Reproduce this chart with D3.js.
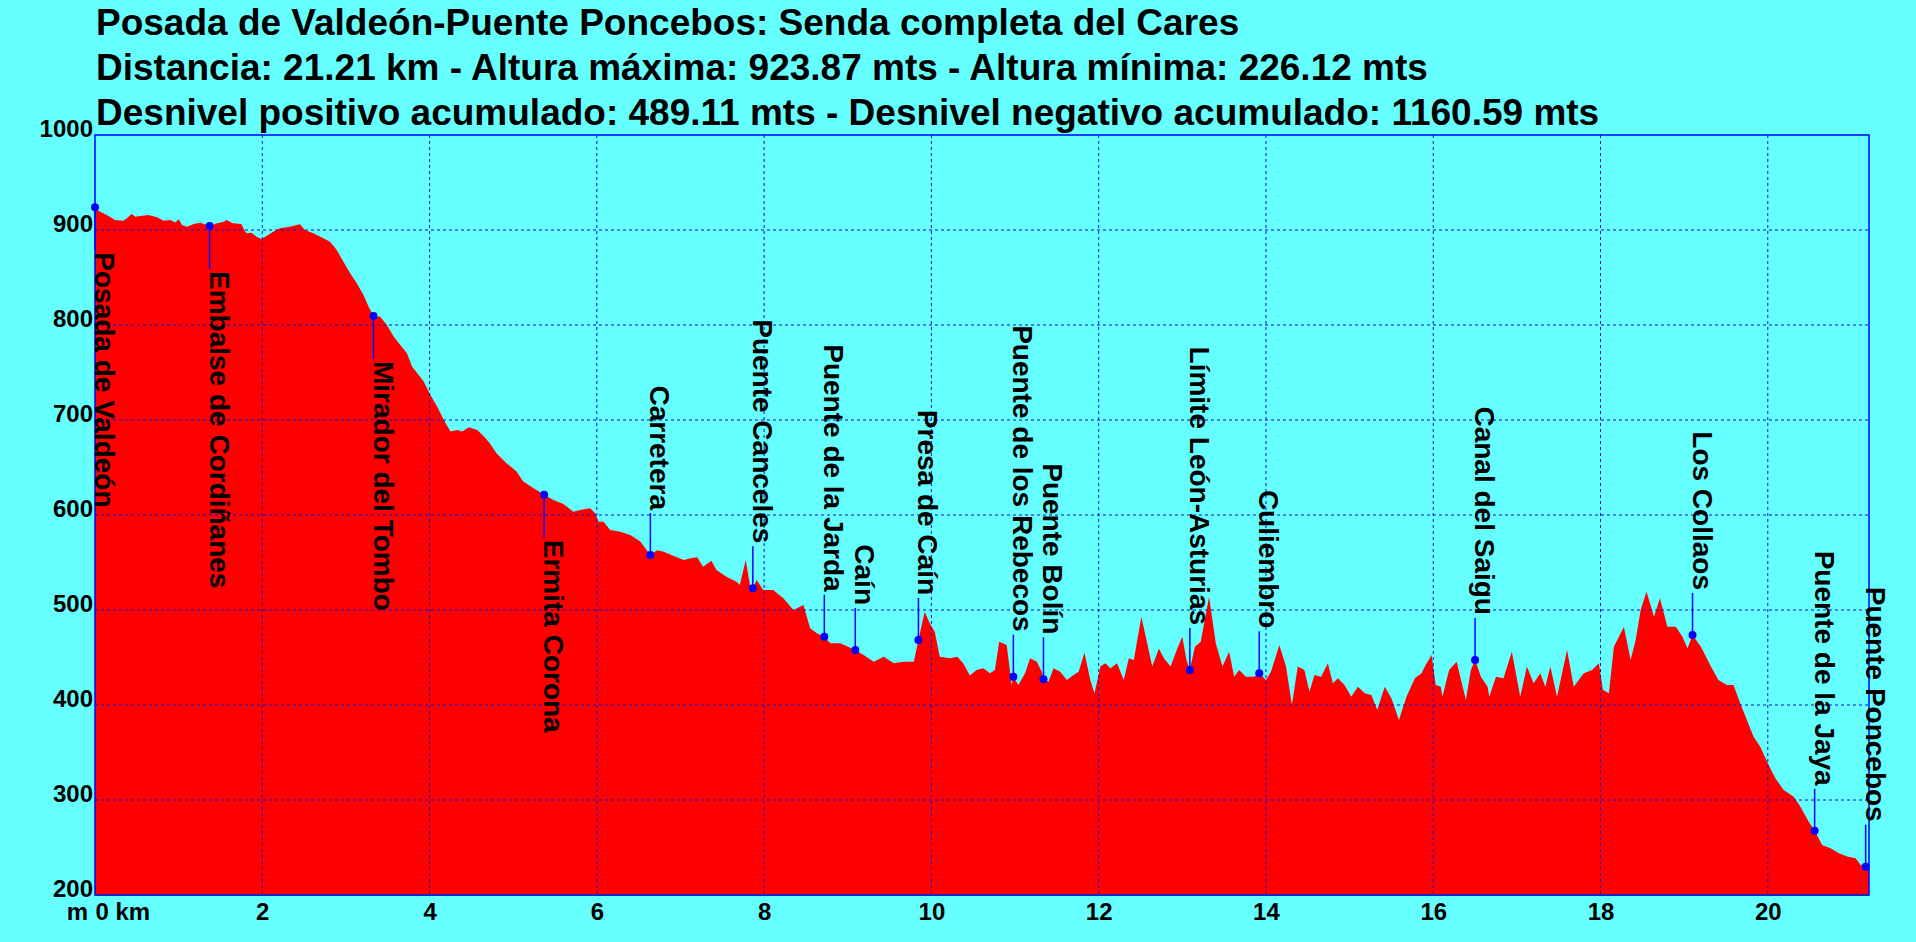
<!DOCTYPE html>
<html>
<head>
<meta charset="utf-8">
<script src="https://cdn.jsdelivr.net/npm/d3@7/dist/d3.min.js"></script>
<style>
  body { margin: 0; background: #66ffff; }
  svg { display: block; }
  text { font-family: "Liberation Sans", Arial, sans-serif; font-weight: bold; fill: #000; }
</style>
</head>
<body>
<svg width="1916" height="942"></svg>
<script>

// profile: distance (km) and altitude (m)
var profileKm = [0, 0.04, 0.14, 0.24, 0.34, 0.38, 0.44, 0.48, 0.54, 0.64, 0.74, 0.82, 0.90, 0.96, 1.00, 1.04, 1.10, 1.18, 1.26, 1.37,
  1.46, 1.54, 1.57, 1.65, 1.75, 1.78, 1.81, 1.87, 1.93, 1.99, 2.05, 2.13, 2.21, 2.33, 2.45, 2.51, 2.61, 2.73, 2.81, 2.89,
  2.97, 3.05, 3.13, 3.21, 3.27, 3.33, 3.41, 3.49, 3.57, 3.65, 3.73, 3.79, 3.87, 3.93, 4.01, 4.09, 4.17, 4.25, 4.33, 4.39,
  4.47, 4.57, 4.65, 4.72, 4.80, 4.92, 5.04, 5.12, 5.24, 5.37, 5.48, 5.60, 5.72, 5.80, 5.92, 5.98, 6.02, 6.08, 6.16, 6.28,
  6.40, 6.52, 6.64, 6.72, 6.80, 6.92, 7.04, 7.12, 7.20, 7.27, 7.37, 7.43, 7.55, 7.67, 7.71, 7.78, 7.83, 7.865, 7.91, 7.99,
  8.11, 8.23, 8.35, 8.47, 8.55, 8.63, 8.72, 8.79, 8.91, 9.09, 9.19, 9.31, 9.43, 9.55, 9.67, 9.79, 9.845, 9.92, 9.98, 10.04,
  10.10, 10.22, 10.31, 10.38, 10.46, 10.54, 10.62, 10.70, 10.76, 10.81, 10.90, 10.96, 10.98, 11.04, 11.12, 11.18, 11.26, 11.32, 11.34, 11.40,
  11.46, 11.54, 11.62, 11.70, 11.76, 11.83, 11.90, 11.95, 12.02, 12.08, 12.14, 12.22, 12.30, 12.36, 12.42, 12.51, 12.58, 12.64, 12.72, 12.78,
  12.86, 12.94, 13.00, 13.05, 13.09, 13.15, 13.22, 13.32, 13.40, 13.48, 13.56, 13.62, 13.68, 13.76, 13.86, 13.92, 14.00, 14.06, 14.16, 14.24,
  14.31, 14.38, 14.46, 14.52, 14.58, 14.66, 14.74, 14.80, 14.86, 14.94, 15.02, 15.10, 15.18, 15.26, 15.33, 15.42, 15.50, 15.59, 15.68, 15.78,
  15.86, 15.91, 15.98, 16.03, 16.09, 16.11, 16.19, 16.28, 16.39, 16.45, 16.50, 16.57, 16.65, 16.67, 16.75, 16.84, 16.94, 17.04, 17.12, 17.20,
  17.28, 17.34, 17.40, 17.48, 17.60, 17.68, 17.80, 17.90, 17.98, 18.03, 18.10, 18.16, 18.28, 18.36, 18.42, 18.48, 18.55, 18.64, 18.71, 18.80,
  18.90, 18.98, 19.04, 19.10, 19.20, 19.32, 19.41, 19.51, 19.59, 19.67, 19.75, 19.83, 19.91, 20.00, 20.09, 20.19, 20.31, 20.39, 20.49, 20.56,
  20.65, 20.75, 20.85, 20.95, 21.05, 21.11, 21.17, 21.21];

var profileEle = [923.9, 920.3, 915.8, 910.5, 909.8, 912.3, 916.8, 914.0, 914.7, 915.8, 913.3, 909.8, 910.5, 908.0, 911.2, 905.3, 903.5, 906.3, 907.7, 904.2,
  907.0, 908.8, 910.5, 907.0, 906.3, 900.7, 896.5, 897.2, 893.0, 890.5, 893.7, 898.2, 901.8, 903.5, 906.0, 900.0, 896.5, 891.2, 887.7, 879.0,
  866.7, 854.4, 843.9, 831.6, 819.4, 809.5, 808.8, 800.0, 787.8, 779.0, 770.3, 756.2, 747.5, 740.5, 726.4, 714.2, 700.1, 687.9, 689.6, 687.9,
  692.4, 689.6, 682.6, 675.6, 665.1, 654.6, 645.8, 635.3, 628.3, 621.3, 615.8, 611.6, 603.5, 605.3, 607.0, 601.8, 593.0, 593.0, 584.2, 582.5,
  579.0, 572.0, 557.9, 563.0, 561.4, 556.8, 552.6, 554.4, 555.4, 545.6, 551.9, 542.1, 535.1, 529.8, 526.3, 552.6, 526.3, 522.8, 531.6, 521.0,
  521.0, 512.3, 500.0, 505.3, 480.7, 475.4, 471.9, 464.9, 464.9, 457.9, 452.6, 445.6, 450.9, 443.9, 445.6, 445.6, 468.4, 498.2, 486.0, 477.2,
  450.9, 449.1, 450.9, 443.9, 431.0, 436.8, 438.6, 433.3, 436.8, 466.7, 463.2, 421.0, 429.8, 421.0, 433.3, 449.1, 445.6, 435.1, 427.0, 424.6,
  438.6, 435.1, 426.3, 431.6, 435.1, 455.1, 426.3, 412.3, 440.4, 443.9, 438.6, 443.9, 426.3, 449.1, 447.4, 493.0, 464.9, 440.4, 459.6, 449.1,
  440.4, 459.6, 471.9, 447.4, 436.8, 461.4, 466.7, 514.0, 464.9, 440.4, 456.1, 429.8, 436.8, 429.8, 429.8, 433.3, 426.3, 435.1, 463.2, 440.4,
  400.0, 440.4, 436.8, 414.0, 431.6, 429.8, 443.9, 422.8, 428.1, 421.0, 408.8, 419.3, 412.3, 410.5, 394.7, 419.3, 407.0, 384.2, 408.8, 428.1,
  433.3, 442.1, 452.6, 421.0, 419.3, 408.8, 436.8, 445.6, 405.3, 436.8, 447.4, 429.8, 419.3, 408.8, 429.8, 428.1, 456.1, 408.8, 440.4, 422.8,
  433.3, 419.3, 440.4, 408.8, 457.9, 419.3, 433.3, 436.8, 443.9, 415.8, 412.3, 461.4, 482.5, 447.4, 468.4, 500.0, 519.3, 493.0, 512.3, 482.5,
  482.5, 471.9, 459.6, 473.7, 461.4, 440.4, 426.3, 421.0, 421.0, 401.8, 384.2, 366.7, 356.1, 338.6, 322.8, 310.5, 303.5, 293.0, 277.2, 267.7,
  252.6, 249.1, 243.9, 240.4, 238.6, 231.6, 229.8, 226.1];

// waypoints
var wpNames = ["Posada de Valdeón", "Embalse de Cordiñanes", "Mirador del Tombo", "Ermita Corona", "Carretera",
  "Puente Canceles", "Puente de la Jarda", "Caín", "Presa de Caín", "Puente de los Rebecos", "Puente Bolín",
  "Límite León-Asturias", "Culiembro", "Canal del Saigu", "Los Collaos", "Puente de la Jaya", "Puente Poncebos"];
var wpKm = [0, 1.37, 3.33, 5.37, 6.64, 7.865, 8.72, 9.09, 9.845, 10.98, 11.34, 13.09, 13.92, 16.50, 19.10, 20.56, 21.17];
var wpEle = [923.87, 904.2, 809.5, 621.3, 557.9, 522.8, 471.9, 457.9, 468.4, 429.8, 427.0, 436.8, 433.3, 447.4, 473.7, 267.7, 229.8];

var titleLines = [
  "Posada de Valdeón-Puente Poncebos: Senda completa del Cares",
  "Distancia: 21.21 km - Altura máxima: 923.87 mts - Altura mínima: 226.12 mts",
  "Desnivel positivo acumulado: 489.11 mts - Desnivel negativo acumulado: 1160.59 mts"
];

var xTicks = [0, 2, 4, 6, 8, 10, 12, 14, 16, 18, 20];
var yTicks = [200, 300, 400, 500, 600, 700, 800, 900, 1000];

var svg = d3.select("svg"),
    plotLeft = 95, plotRight = 1869, plotTop = 135, plotBottom = 895;

var x = d3.scaleLinear().domain([0, 21.21]).range([plotLeft, plotRight]);
var y = d3.scaleLinear().domain([200, 1000]).range([plotBottom, plotTop]);

svg.append("rect")
    .attr("width", 1916).attr("height", 942)
    .attr("fill", "#66ffff");

var profile = profileKm.map(function(k, i) { return {km: k, ele: profileEle[i]}; });

var area = d3.area()
    .x(function(d) { return x(d.km); })
    .y0(y(200))
    .y1(function(d) { return y(d.ele); });

svg.append("path")
    .datum(profile)
    .attr("fill", "#ff0000")
    .attr("d", area);

// grid
var grid = svg.append("g")
    .attr("stroke", "#1010d0")
    .attr("stroke-width", 1)
    .attr("stroke-dasharray", "3,3");

grid.selectAll(".gx")
    .data(xTicks.filter(function(d) { return d > 0; }))
  .enter().append("line")
    .attr("x1", function(d) { return x(d); }).attr("x2", function(d) { return x(d); })
    .attr("y1", plotTop).attr("y2", plotBottom);

grid.selectAll(".gy")
    .data(yTicks.filter(function(d) { return d > 200 && d < 1000; }))
  .enter().append("line")
    .attr("x1", plotLeft).attr("x2", plotRight)
    .attr("y1", function(d) { return y(d); }).attr("y2", function(d) { return y(d); });

svg.append("rect")
    .attr("x", plotLeft).attr("y", plotTop)
    .attr("width", plotRight - plotLeft).attr("height", plotBottom - plotTop)
    .attr("fill", "none")
    .attr("stroke", "#0000ff")
    .attr("stroke-width", 1.5);

svg.append("line")
    .attr("x1", plotLeft).attr("x2", plotRight)
    .attr("y1", plotBottom).attr("y2", plotBottom)
    .attr("stroke", "#2222bb")
    .attr("stroke-width", 2);

// axes
var xAxis = svg.append("g")
    .attr("transform", "translate(0," + plotBottom + ")")
    .call(d3.axisBottom(x).tickValues(xTicks).tickSize(0).tickPadding(8)
      .tickFormat(function(d) { return d === 0 ? "0 km" : d; }));
xAxis.select(".domain").remove();
xAxis.selectAll("text")
    .attr("font-size", 24)
    .attr("font-family", null)
    .attr("fill", "#000")
    .attr("text-anchor", function(d) { return d === 0 ? "start" : "middle"; });

svg.append("text")
    .attr("x", x(0) - 7)
    .attr("y", plotBottom + 8)
    .attr("dy", "0.71em")
    .attr("font-size", 24)
    .attr("text-anchor", "end")
    .text("m");

var yAxis = svg.append("g")
    .attr("transform", "translate(" + plotLeft + ",0)")
    .call(d3.axisLeft(y).tickValues(yTicks).tickSize(0).tickPadding(2).tickFormat(d3.format("d")));
yAxis.select(".domain").remove();
yAxis.selectAll("text")
    .attr("font-size", 24)
    .attr("font-family", null)
    .attr("fill", "#000")
    .attr("dy", "0.05em");

// waypoints
var wps = wpNames.map(function(n, i) { return {name: n, km: wpKm[i], ele: wpEle[i]}; });

var wg = svg.append("g").selectAll("g")
    .data(wps)
  .enter().append("g")
    .attr("transform", function(d) { return "translate(" + x(d.km) + "," + y(d.ele) + ")"; });

wg.append("line")
    .attr("x1", 0).attr("x2", 0)
    .attr("y1", 0)
    .attr("y2", function(d) { return d.ele > 600 ? 43 : -42; })
    .attr("stroke", "#0000ff")
    .attr("stroke-width", 1.5);

wg.append("circle")
    .attr("r", 4)
    .attr("fill", "#0000ff");

wg.append("text")
    .attr("transform", function(d) { return "translate(0," + (d.ele > 600 ? 45 : -45) + ") rotate(90)"; })
    .attr("text-anchor", function(d) { return d.ele > 600 ? "start" : "end"; })
    .attr("font-size", 28)
    .text(function(d) { return d.name; });

// title
svg.append("g").selectAll("text")
    .data(titleLines)
  .enter().append("text")
    .attr("x", 96)
    .attr("y", function(d, i) { return 35 + i * 45; })
    .attr("font-size", 37)
    .text(function(d) { return d; });

</script>
</body>
</html>
